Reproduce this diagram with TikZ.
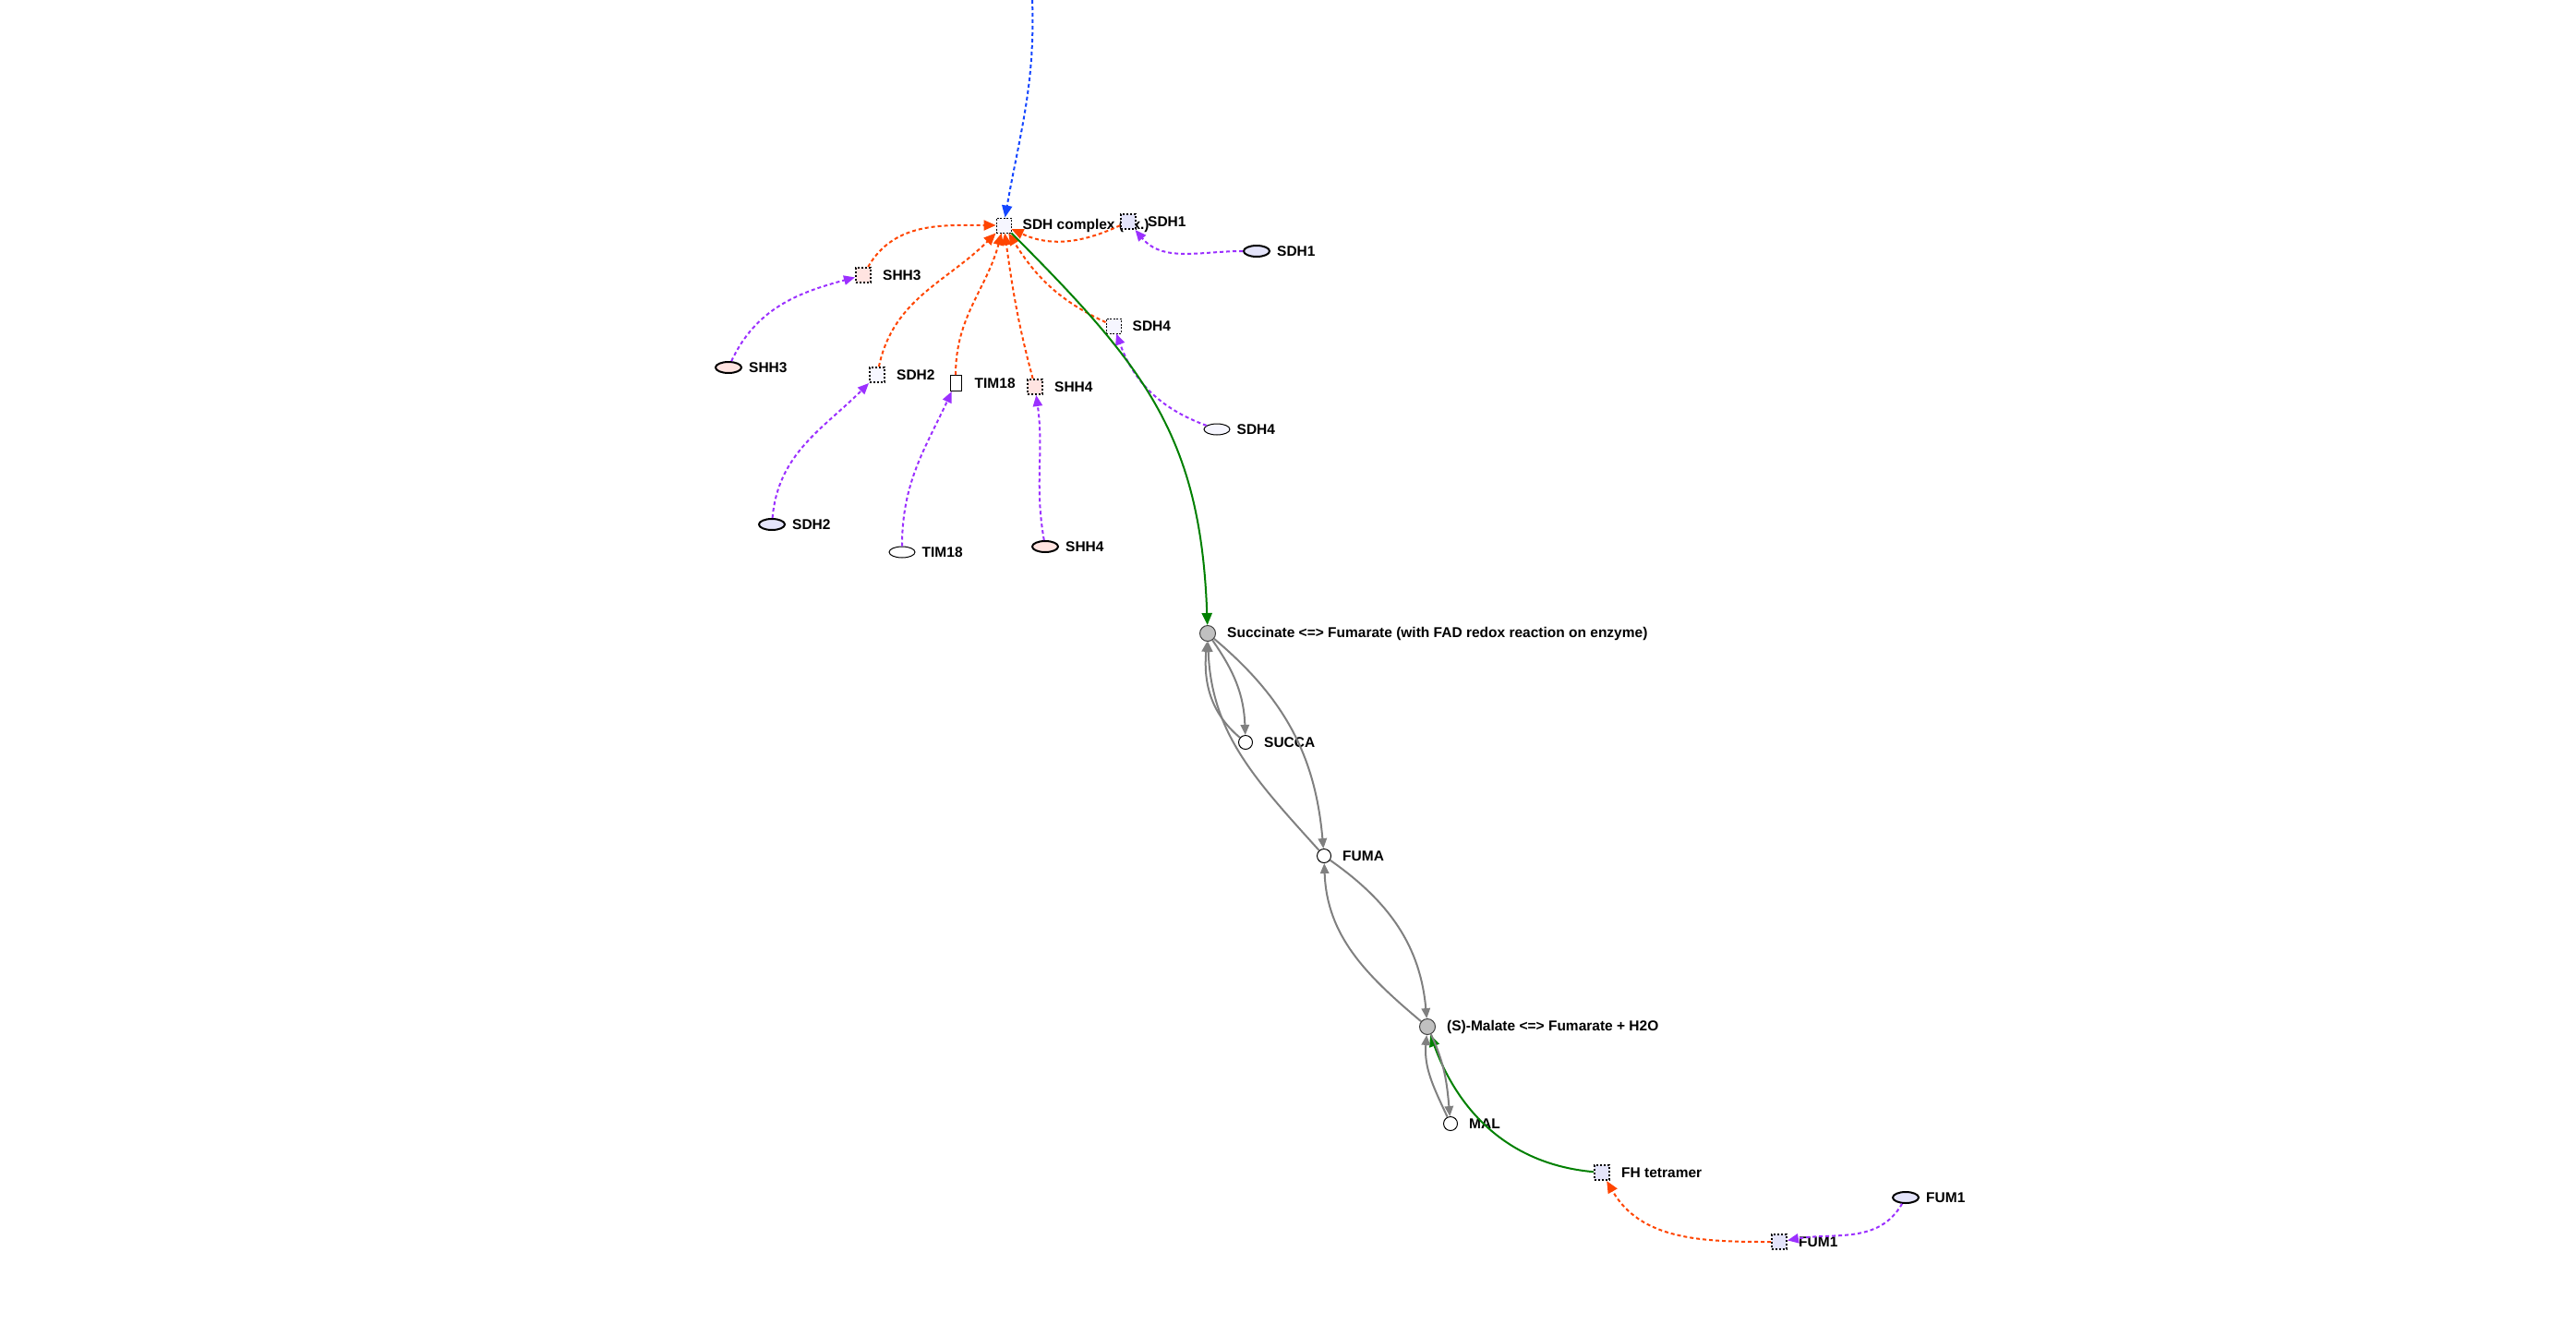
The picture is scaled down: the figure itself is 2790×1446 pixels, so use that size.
\documentclass[tikz,border=0pt]{standalone}
\usepackage{fontspec}
\setmainfont{Liberation Sans}
\usetikzlibrary{shapes.geometric,arrows.meta}

\definecolor{orred}{RGB}{255,69,0}
\definecolor{violetl}{RGB}{155,48,255}
\definecolor{linkblue}{RGB}{20,70,255}
\definecolor{catgreen}{RGB}{0,128,0}
\definecolor{pinkfill}{RGB}{255,228,225}
\definecolor{lavfill}{RGB}{228,228,250}
\definecolor{palefill}{RGB}{246,246,255}
\definecolor{rxngray}{RGB}{192,192,192}

\tikzset{
  lbl/.style={font=\fontsize{15.5}{18}\selectfont\bfseries, inner sep=0pt, draw=none, fill=none, solid, xshift=#1},
  lbl/.default=12pt,
  cpx/.style={rectangle, draw, fill=#1, minimum size=16pt, inner sep=0pt, line width=0.9pt,
    dash pattern=on 2pt off 1.5pt},
  prot/.style={rectangle, draw, fill=#1, minimum size=16pt, inner sep=0pt, line width=2pt,
    dash pattern=on 2pt off 2pt},
  tbox/.style={rectangle, draw, fill=white, minimum width=12pt, minimum height=17pt, inner sep=0pt,
    line width=1pt},
  gene/.style={ellipse, draw, fill=#1, minimum width=28pt, minimum height=12pt, inner sep=0pt,
    line width=2pt},
  genethin/.style={gene=#1, line width=1pt},
  met/.style={circle, draw, fill=white, minimum size=15pt, inner sep=0pt, line width=1pt},
  rxn/.style={circle, draw=black!75, fill=rxngray, minimum size=17pt, inner sep=0pt, line width=1pt},
  tip/.style={-{Triangle[length=#1,width=0.85*#1]}},
  oedge/.style={orred, line width=2pt, dash pattern=on 4pt off 3pt, tip=13pt},
  pedge/.style={violetl, line width=2pt, dash pattern=on 4pt off 3pt, tip=12pt},
  bedge/.style={linkblue, line width=2pt, dash pattern=on 4pt off 3pt, tip=13pt},
  gedge/.style={catgreen, line width=2pt, tip=13pt},
  kedge/.style={gray, line width=2pt, tip=11pt},
}

\begin{document}
\begin{tikzpicture}[x=1pt,y=1pt]
  \useasboundingbox (0,0) rectangle (2790,-1446);

  % complex and its subunits
  \node[cpx=palefill, label={[lbl]0:SDH complex (ox.)}] (sdhc) at (1087,-244) {};
  \node[prot=lavfill, label={[lbl]0:SDH1}] (sdh1b) at (1222,-240) {};
  \node[prot=pinkfill, label={[lbl]0:SHH3}] (shh3b) at (935,-298) {};
  \node[prot=palefill, label={[lbl]0:SDH2}] (sdh2b) at (950,-406) {};
  \node[tbox, label={[lbl=14pt]0:TIM18}] (tim18b) at (1035,-415) {};
  \node[prot=pinkfill, label={[lbl]0:SHH4}] (shh4b) at (1121,-419) {};
  \node[cpx=palefill, label={[lbl]0:SDH4}] (sdh4b) at (1206,-353) {};

  % genes
  \node[gene=lavfill, label={[lbl=7pt]0:SDH1}] (sdh1e) at (1361,-272) {};
  \node[gene=pinkfill, label={[lbl=7pt]0:SHH3}] (shh3e) at (789,-398) {};
  \node[gene=lavfill, label={[lbl=7pt]0:SDH2}] (sdh2e) at (836,-568) {};
  \node[genethin=white, label={[lbl=7pt]0:TIM18}] (tim18e) at (977,-598) {};
  \node[gene=pinkfill, label={[lbl=7pt]0:SHH4}] (shh4e) at (1132,-592) {};
  \node[genethin=palefill, label={[lbl=7pt]0:SDH4}] (sdh4e) at (1318,-465) {};

  % reactions and metabolites
  \node[rxn, label={[lbl=12pt]0:Succinate <=> Fumarate (with FAD redox reaction on enzyme)}] (succ) at (1308,-686) {};
  \node[met, label={[lbl=12pt]0:SUCCA}] (succa) at (1349,-804) {};
  \node[met, label={[lbl=12pt]0:FUMA}] (fuma) at (1434,-927) {};
  \node[rxn, label={[lbl=12pt]0:(S)-Malate <=> Fumarate + H2O}] (mala) at (1546,-1112) {};
  \node[met, label={[lbl=12pt]0:MAL}] (mal) at (1571,-1217) {};

  % fumarase
  \node[prot=lavfill, label={[lbl]0:FH tetramer}] (fh) at (1735,-1270) {};
  \node[prot=lavfill, label={[lbl]0:FUM1}] (fum1b) at (1927,-1345) {};
  \node[gene=lavfill, label={[lbl=7pt]0:FUM1}] (fum1e) at (2064,-1297) {};

  \coordinate (bluetop) at (1118,0);
  \draw[bedge] (bluetop) to[out=-88,in=80] (sdhc);

  % subunits into the complex
  \draw[oedge] (shh3b) to[out=60,in=180] (sdhc);
  \draw[oedge] (sdh2b) to[out=78,in=-135] (sdhc);
  \draw[oedge] (tim18b) to[out=90,in=-105] (sdhc);
  \draw[oedge] (shh4b) to[out=105,in=-82] (sdhc);
  \draw[oedge] (sdh4b) to[out=155,in=-58] (sdhc);
  \draw[oedge] (sdh1b) to[out=205,in=-25] (sdhc);

  % genes to products
  \draw[pedge] (shh3e) to[out=65,in=195] (shh3b);
  \draw[pedge] (sdh2e) to[out=85,in=-135] (sdh2b);
  \draw[pedge] (tim18e) to[out=90,in=-115] (tim18b);
  \draw[pedge] (shh4e) to[out=100,in=-82] (shh4b);
  \draw[pedge] (sdh4e) to[out=160,in=-70] (sdh4b);
  \draw[pedge] (sdh1e) to[out=180,in=-50] (sdh1b);
  \draw[pedge] (fum1e) to[out=-120,in=10] (fum1b);
  \draw[oedge] (fum1b) to[out=180,in=-60] (fh);

  % catalysis
  \draw[gedge] (sdhc) to[out=-45,in=92,looseness=1.1] (succ);
  \draw[gedge] (fh) to[out=175,in=-70] (mala);

  % reaction links
  \draw[kedge] (succ) to[out=-55,in=92] (succa);
  \draw[kedge] (succa) to[out=140,in=-95] (succ);
  \draw[kedge] (succ) to[out=-40,in=95] (fuma);
  \draw[kedge] (fuma) to[out=132,in=-88] (succ);
  \draw[kedge] (fuma) to[out=-35,in=95] (mala);
  \draw[kedge] (mala) to[out=140,in=-88] (fuma);
  \draw[kedge] (mala) to[out=-65,in=95] (mal);
  \draw[kedge] (mal) to[out=115,in=-95] (mala);
\end{tikzpicture}
\end{document}
